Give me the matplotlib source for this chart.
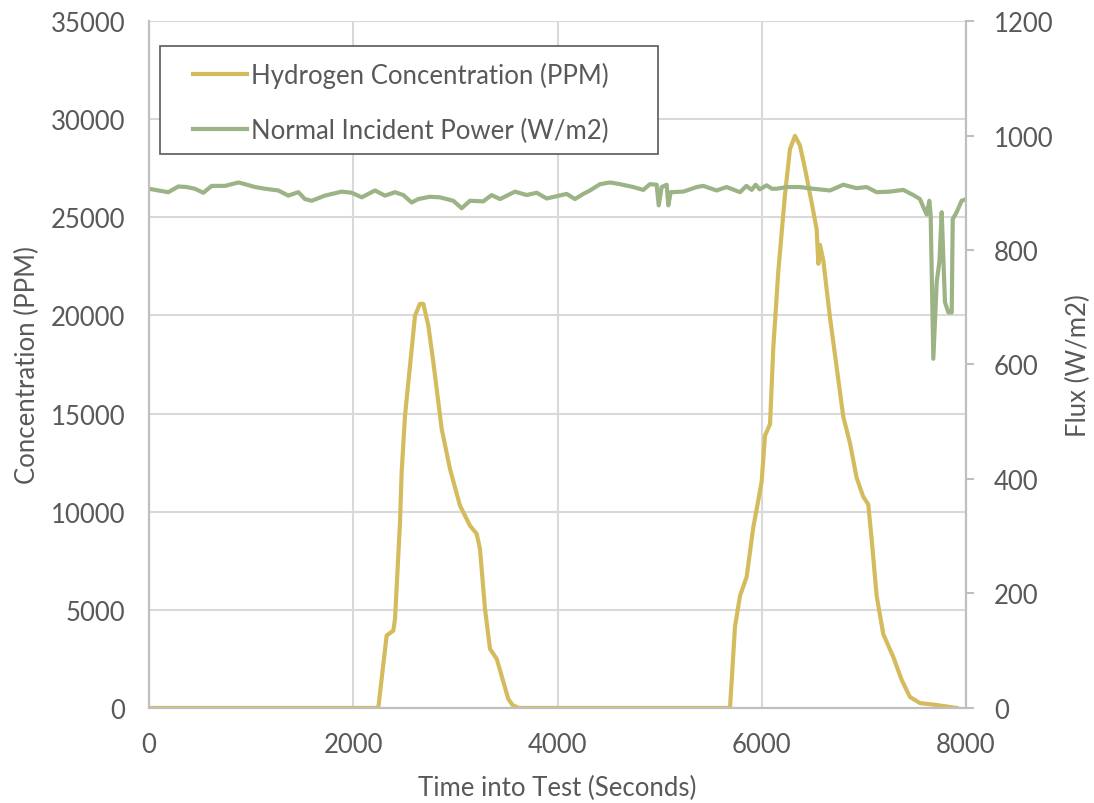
import matplotlib
matplotlib.use("Agg")
import matplotlib.pyplot as plt
from matplotlib.patches import Rectangle

# Hydrogen concentration (PPM) vs time (s)
h2_time = [0, 2245, 2327, 2392, 2409, 2458, 2474, 2507, 2556, 2605, 2653, 2686,
           2735, 2784, 2866, 2947, 3045, 3143, 3209, 3241, 3290, 3339, 3405,
           3518, 3560, 3620, 5689, 5738, 5787, 5852, 5917, 5966, 5999, 6032,
           6081, 6113, 6162, 6227, 6276, 6325, 6374, 6423, 6489, 6538, 6554,
           6570, 6602, 6668, 6733, 6798, 6864, 6929, 6994, 7043, 7076, 7125,
           7190, 7288, 7370, 7451, 7549, 7713, 7909]
h2_ppm = [0, 0, 3690, 3940, 4540, 9480, 12030, 14900, 17450, 20000, 20590, 20590,
          19490, 17620, 14220, 12180, 10310, 9290, 8870, 8100, 5050, 3010, 2500,
          460, 150, 0, 0, 4150, 5710, 6680, 9200, 10570, 11540, 13880,
          14460, 18350, 22240, 26130, 28470, 29150, 28660, 27490, 25740, 24380, 22630,
          23600, 22820, 19900, 17380, 14850, 13490, 11730, 10760, 10370, 8610, 5710,
          3760, 2600, 1430, 560, 250, 150, 0]

# Normal incident power (W/m2) vs time (s)
nip_time = [0, 91, 189, 287, 369, 450, 532, 614, 744, 875,
            940, 1038, 1136, 1266, 1364, 1462, 1527, 1593, 1723, 1887,
            1985, 2083, 2213, 2311, 2409, 2490, 2572, 2637, 2750, 2849,
            2980, 3062, 3143, 3273, 3355, 3437, 3584, 3698, 3796, 3894,
            3992, 4090, 4171, 4253, 4318, 4416, 4514, 4612, 4742, 4840,
            4905, 4971, 4991, 5020, 5069, 5085, 5108, 5232, 5363, 5427,
            5558, 5656, 5787, 5850, 5901, 5940, 5980, 6048, 6100, 6146,
            6244, 6374, 6505, 6668, 6798, 6929, 7027, 7125, 7255, 7386,
            7484, 7549, 7582, 7615, 7641, 7654, 7680, 7713, 7740, 7762,
            7794, 7827, 7860, 7870, 7908, 7957, 8006]
nip_flux = [907, 904, 901, 911, 910, 907, 900, 912, 912, 918,
            915, 910, 907, 904, 895, 901, 889, 886, 895, 902,
            900, 892, 904, 895, 901, 896, 883, 889, 893, 892,
            886, 873, 886, 885, 896, 889, 902, 896, 900, 890,
            894, 898, 889, 898, 904, 915, 918, 915, 910, 905,
            915, 914, 878, 910, 914, 878, 901, 902, 910, 912,
            904, 910, 901, 912, 905, 914, 906, 913, 907, 907,
            910, 910, 907, 904, 914, 908, 910, 901, 902, 905,
            896, 889, 875, 862, 886, 860, 610, 744, 780, 866,
            709, 691, 691, 854, 866, 886, 889]

x_ticks = [0, 2000, 4000, 6000, 8000]
left_ticks = [0, 5000, 10000, 15000, 20000, 25000, 30000, 35000]
right_ticks = [0, 200, 400, 600, 800, 1000, 1200]

YELLOW = "#D4BC5E"
GREEN = "#9CB386"
GRID = "#D9D9D9"
TEXT = "#595959"
FS = 18.5

plt.rcParams["font.family"] = ["Lato", "DejaVu Sans"]

fig = plt.figure(figsize=(10.94, 8.04), dpi=100)
ax = fig.add_axes([0.1362, 0.1182, 0.883 - 0.1362, 0.9726 - 0.1182])
ax2 = ax.twinx()

ln1, = ax.plot(h2_time, h2_ppm, color=YELLOW, lw=3.0, label="Hydrogen Concentration (PPM)", zorder=3)
ln2, = ax2.plot(nip_time, nip_flux, color=GREEN, lw=3.0, label="Normal Incident Power (W/m2)")

ax.set_xlim(0, 8000)
ax.set_ylim(0, 35000)
ax2.set_ylim(0, 1200)
ax.set_xticks(x_ticks)
ax.set_yticks(left_ticks)
ax2.set_yticks(right_ticks)

ax.grid(True, color=GRID, lw=1.5)
ax.set_axisbelow(True)

for a in (ax, ax2):
    for s in a.spines.values():
        s.set_color("#BFBFBF")
        s.set_linewidth(1.5)
    a.spines["top"].set_visible(False)
ax.tick_params(axis="x", length=0, labelsize=FS, colors=TEXT, pad=17)
ax.tick_params(axis="y", length=0, labelsize=FS, colors=TEXT, pad=17)
ax2.tick_params(axis="y", length=6, width=1.5, color="#BFBFBF", labelsize=FS,
                labelcolor=TEXT, pad=14)

ax.set_xlabel("Time into Test (Seconds)", fontsize=FS, color=TEXT, labelpad=13)
ax.set_ylabel("Concentration (PPM)", fontsize=FS, color=TEXT, labelpad=8)
ax2.set_ylabel("Flux (W/m2)", fontsize=FS, color=TEXT, labelpad=9)

# legend box drawn separately so its padding matches the original
frame = Rectangle((0.0135, 0.8064), 0.623 - 0.0135, 0.9636 - 0.8064,
                  transform=ax2.transAxes, facecolor="white", edgecolor="#595959",
                  lw=1.2, zorder=4)
ax2.add_patch(frame)
leg = ax2.legend(handles=[ln1, ln2], loc="upper left", bbox_to_anchor=(0.0539, 0.9403),
                 borderaxespad=0, borderpad=0, fontsize=FS, frameon=False,
                 handlelength=2.1, handletextpad=0.15, labelspacing=1.15,
                 labelcolor=TEXT)
leg.set_zorder(5)
for h in leg.get_lines():
    h.set_linewidth(3.0)

fig.savefig("out.png", dpi=100)
